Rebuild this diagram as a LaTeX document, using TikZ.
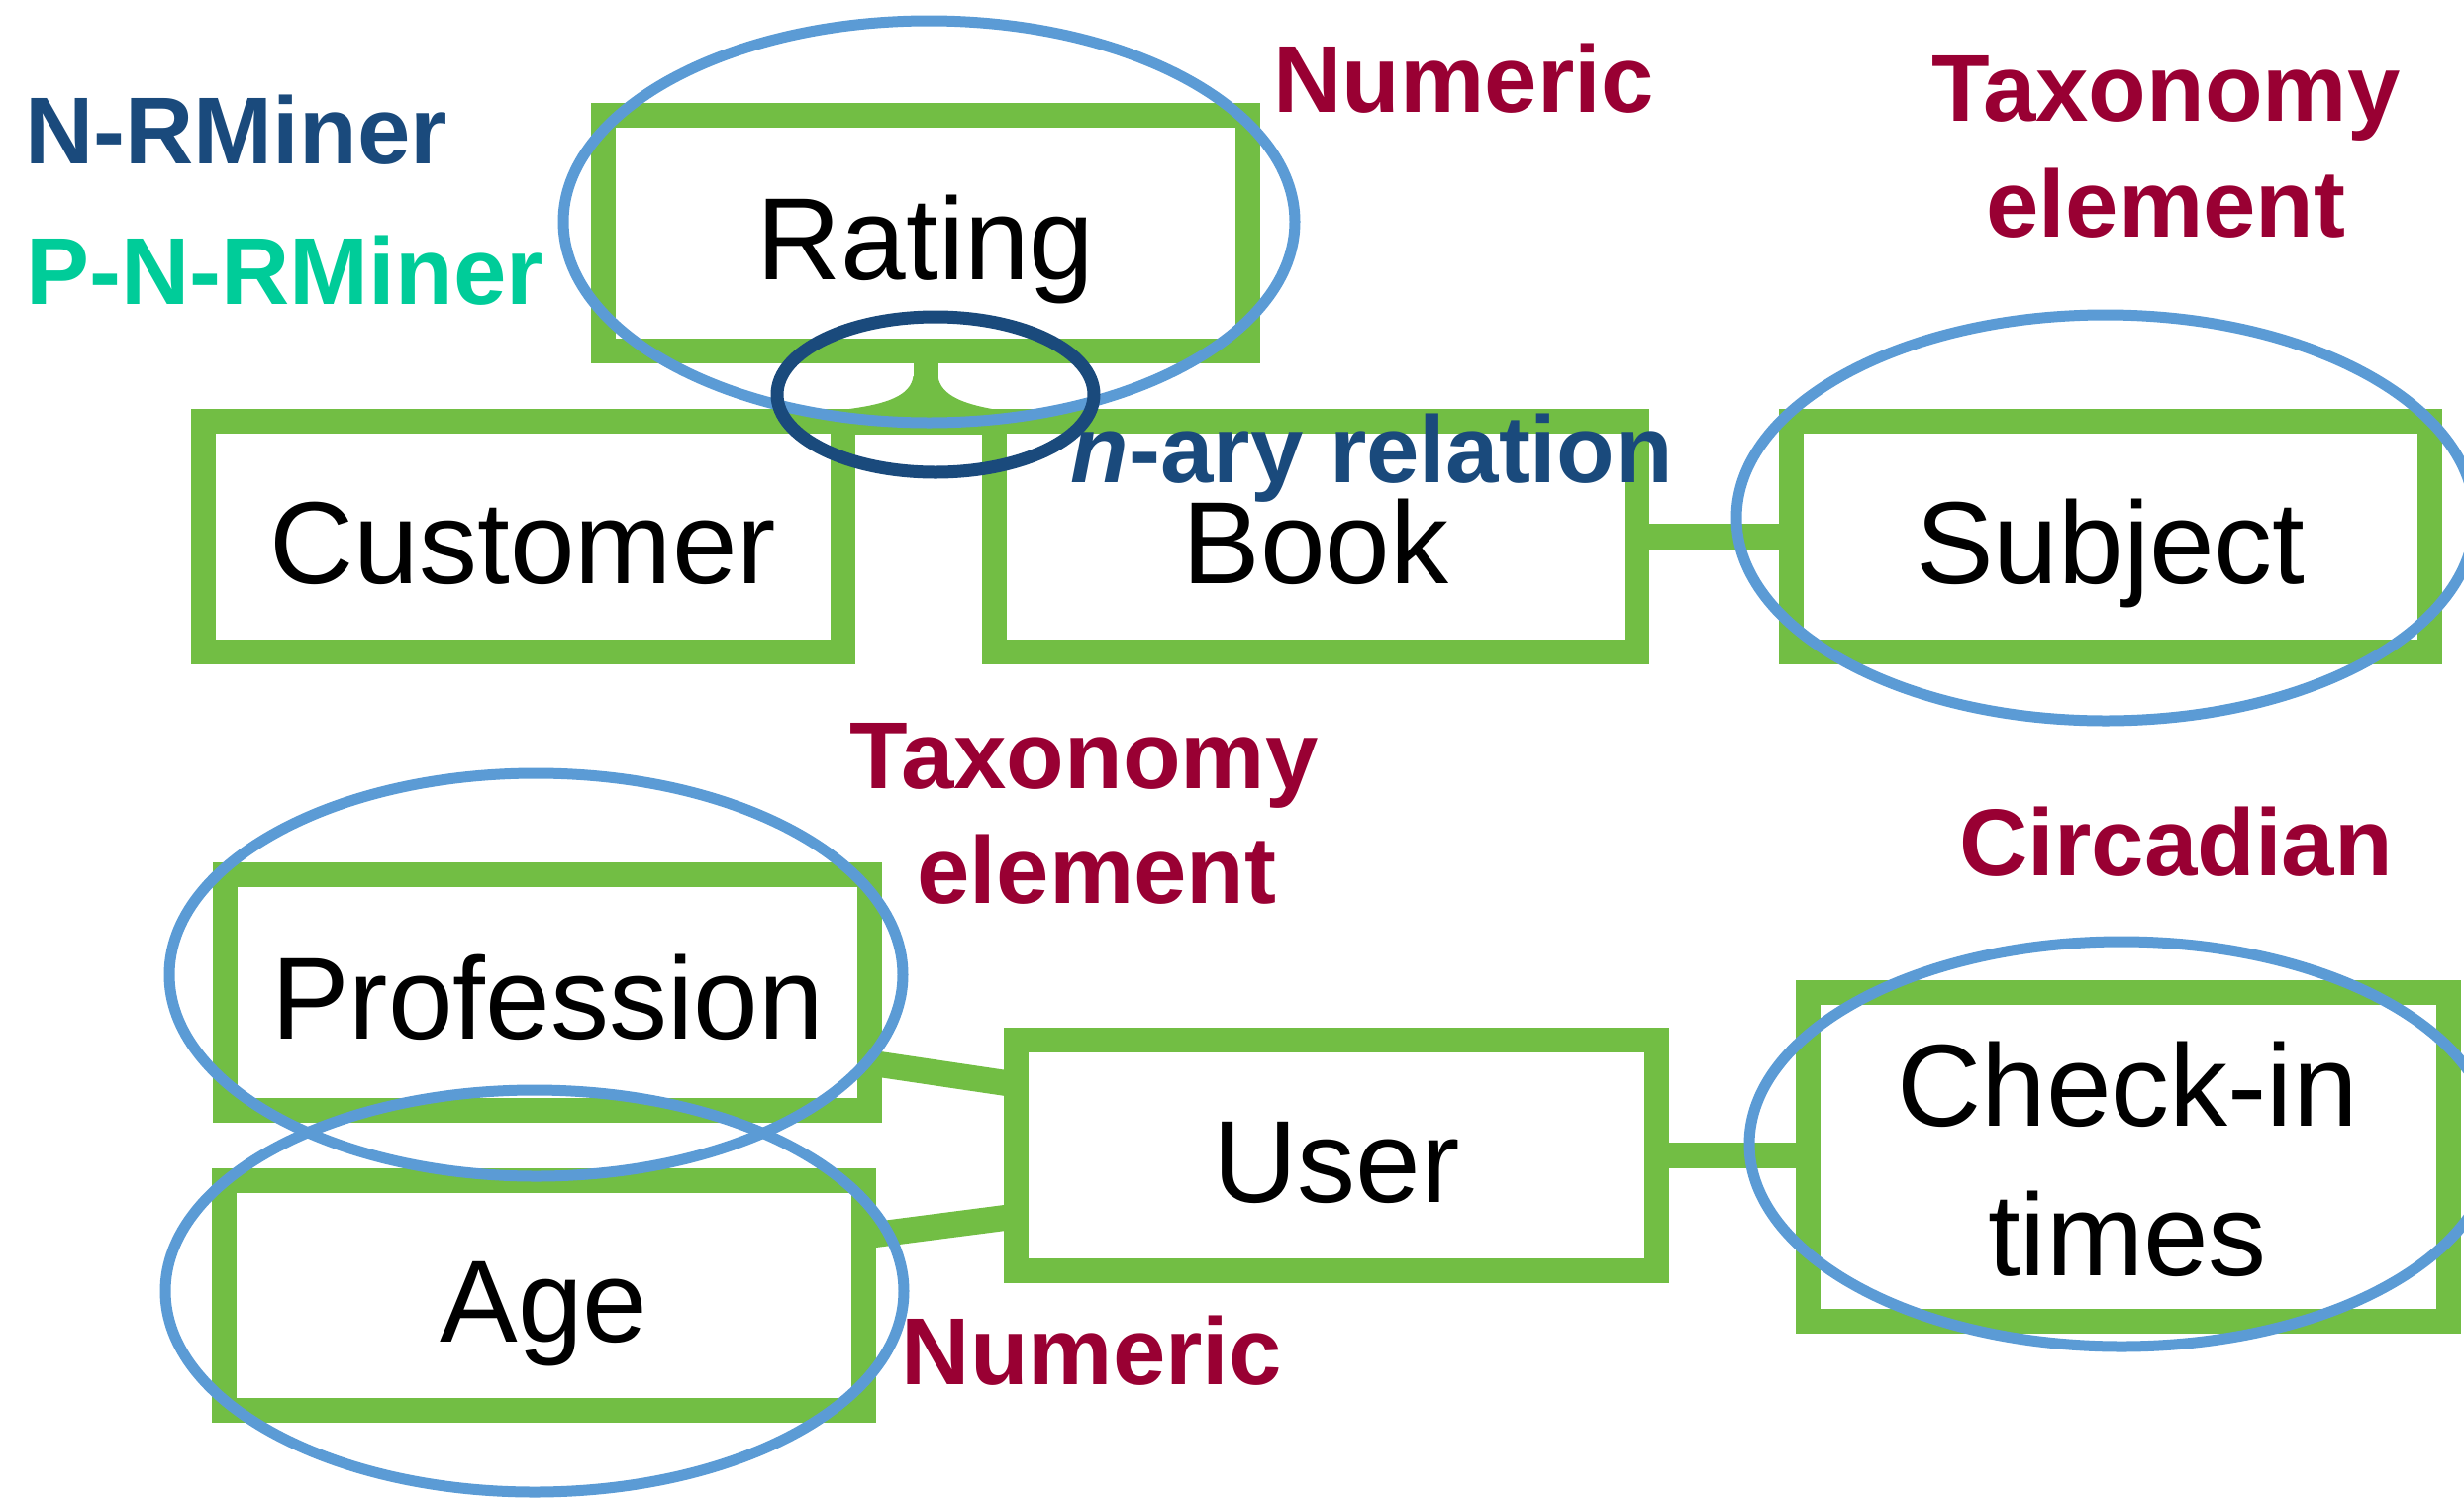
\documentclass[tikz,border=0pt]{standalone}
\usepackage{fontspec}
\setmainfont{Liberation Sans}
\definecolor{boxgreen}{RGB}{114,190,68}
\definecolor{ringblue}{RGB}{91,155,213}
\definecolor{navy}{RGB}{26,74,124}
\definecolor{wine}{RGB}{153,0,51}
\definecolor{teal}{RGB}{0,204,153}
\begin{document}
\begin{tikzpicture}[x=1pt,y=-1pt,
  ebox/.style={draw=boxgreen, line width=25pt, fill=white, inner sep=0pt, outer sep=0pt,
    font=\fontsize{118pt}{140pt}\selectfont, text height=94pt, text depth=0pt},
  boxtext/.style={font=\fontsize{118pt}{140pt}\selectfont, inner sep=0pt, anchor=base},
  conn/.style={draw=boxgreen, line width=26pt},
  ring/.style={draw=ringblue, line width=11pt},
  relring/.style={draw=navy, line width=13pt},
  lab/.style={font=\fontsize{96pt}{117pt}\selectfont\bfseries, text=wine, inner sep=0pt, anchor=base},
  tool/.style={font=\fontsize{96pt}{117pt}\selectfont\bfseries, inner sep=0pt, anchor=base west}]
\useasboundingbox (0,0) rectangle (2489,1513);
\clip (0,0) rectangle (2489,1513);

% entity boxes
\node[ebox, minimum width=651pt, minimum height=238pt] (rating) at (935,235.5) {Rating};
\node[ebox, minimum width=646pt, minimum height=233pt] (customer) at (528.5,542) {Customer};
\node[ebox, minimum width=649pt, minimum height=233pt] (book) at (1329,542) {Book};
\node[ebox, minimum width=645pt, minimum height=233pt] (subject) at (2132,542) {Subject};
\node[ebox, minimum width=651pt, minimum height=238pt] (prof) at (553,1002.5) {Profession};
\node[ebox, minimum width=646pt, minimum height=232pt] (age) at (549.5,1308.5) {Age};
\node[ebox, minimum width=647pt, minimum height=233pt] (user) at (1350,1167) {User};
\node[ebox, minimum width=647pt, minimum height=332pt] (checkin) at (2150,1168.5) {};
\node[boxtext] (checkA) at (2149,1137) {Check-in};
\node[boxtext] (checkB) at (2149,1288) {times};

% relationship connectors
\draw[conn] (customer.north east) -- (book.north west);
\draw[conn, line width=25pt] (rating.south) -- (rating.south |- book.north);
\fill[boxgreen] (922.5,380) .. controls (920,400) and (895,408) .. (858,413)
  -- (1002,413) .. controls (975,408) and (950,400) .. (947.5,380) -- cycle;
\draw[conn] (book.east) -- (subject.west);
\draw[conn] ([yshift=-71pt]prof.east) -- ([yshift=71.5pt]user.west);
\draw[conn] ([yshift=60pt]age.east) -- ([yshift=-61.5pt]user.west);
\draw[conn] (user.east) -- (user.east -| checkin.west);

% highlighted attributes
\draw[ring] (938.5,224) ellipse [x radius=369.5, y radius=203];
\draw[ring] (2127,523) ellipse [x radius=373, y radius=205];
\draw[ring] (541.5,984.5) ellipse [x radius=370.5, y radius=203.5];
\draw[ring] (540,1304) ellipse [x radius=373, y radius=203];
\draw[ring] (2143,1155.5) ellipse [x radius=376, y radius=204.5];
\draw[relring] (945,398.5) ellipse [x radius=160, y radius=78.5];

% legend
\node[tool, text=navy] (nrm) at (25,165) {N-RMiner};
\node[tool, text=teal] (pnrm) at (26,307) {P-N-RMiner};

% annotations
\node[lab, text=navy] (nary) at (1386,487) {{\itshape n}-ary relation};
\node[lab] (numTop) at (1478.5,113) {Numeric};
\node[lab] (taxTopA) at (2188,122) {Taxonomy};
\node[lab] (taxTopB) at (2188,239) {element};
\node[lab] (taxMidA) at (1095,796) {Taxonomy};
\node[lab] (taxMidB) at (1108,912) {element};
\node[lab] (circ) at (2198,884) {Circadian};
\node[lab] (numLow) at (1103,1398) {Numeric};
\end{tikzpicture}
\end{document}
